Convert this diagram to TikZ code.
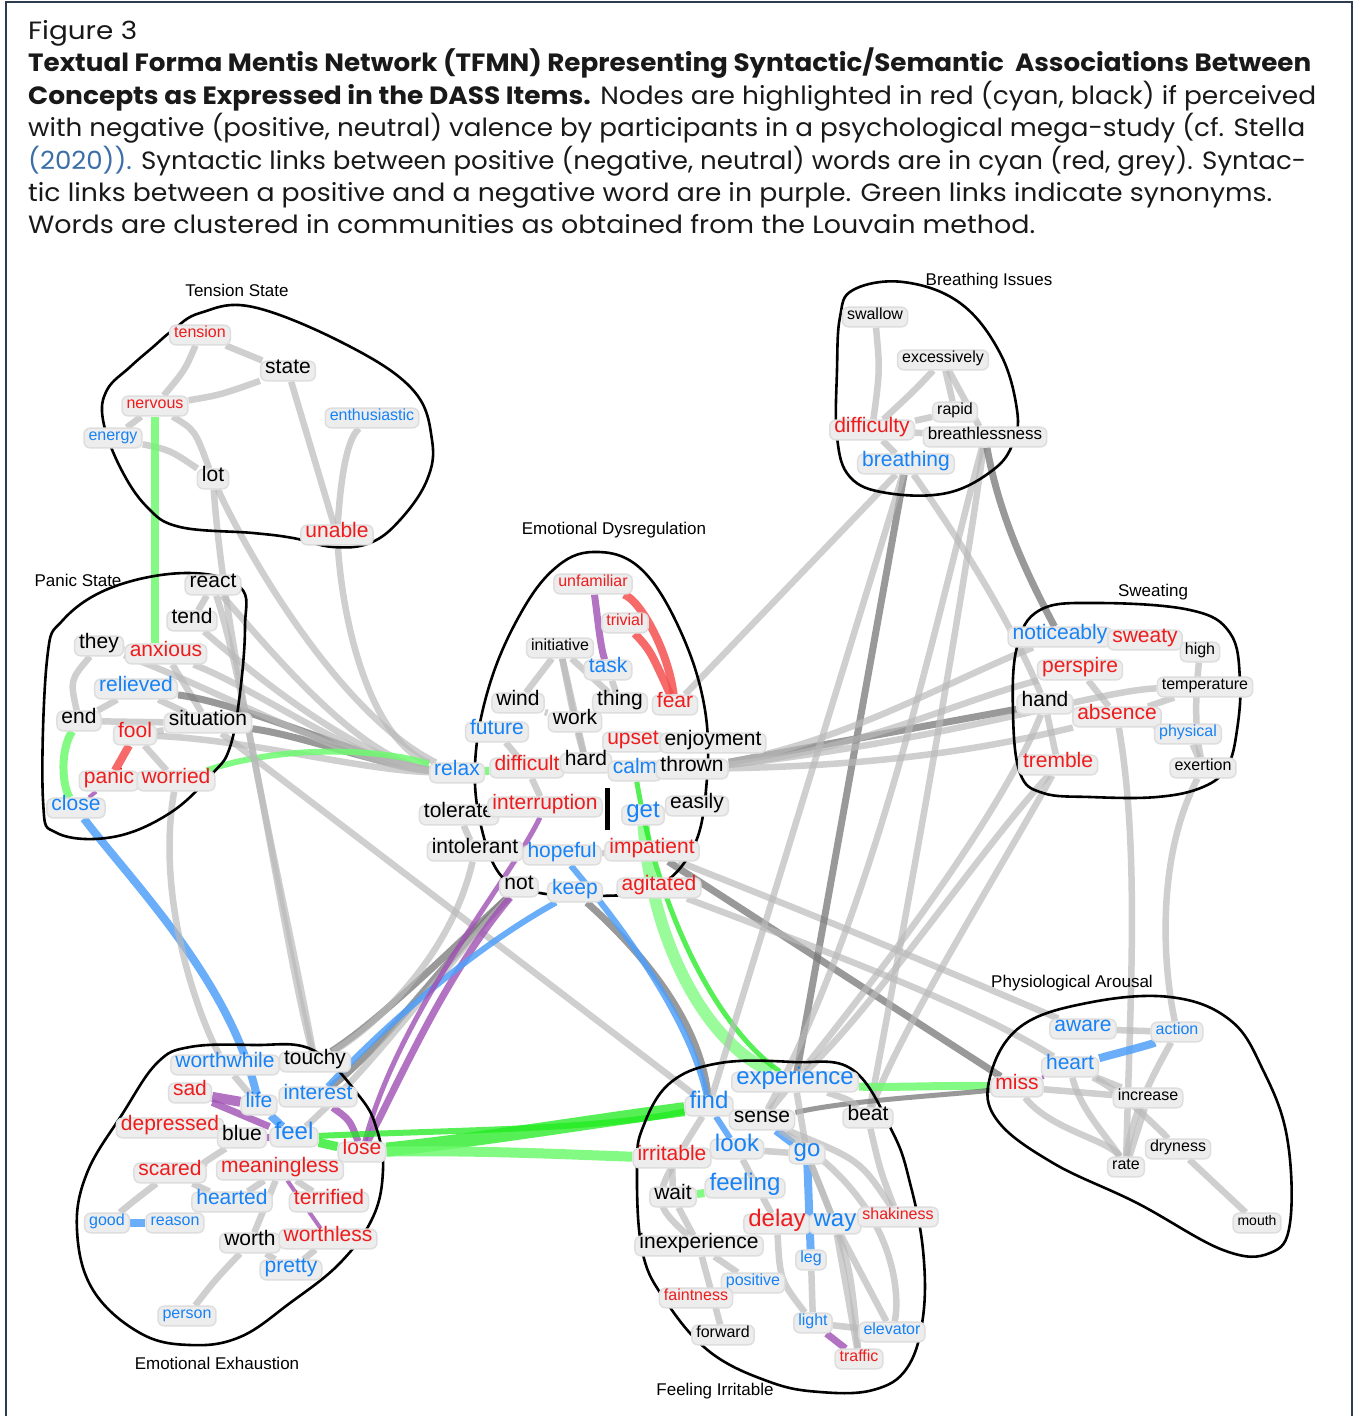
\documentclass[tikz,border=0pt]{standalone}
\usepackage{fontspec}
\usepackage{graphicx}
\newfontfamily\capfont{Poppins}
\newfontfamily\arial{Liberation Sans}
\definecolor{wred}{RGB}{238,28,28}
\definecolor{wblue}{RGB}{22,130,245}
\definecolor{boxf}{RGB}{237,237,237}
\definecolor{boxd}{RGB}{222,222,222}
\definecolor{lgrey}{RGB}{185,185,185}
\definecolor{dgrey}{RGB}{120,120,120}
\definecolor{lgreen}{RGB}{110,250,110}
\definecolor{bgreen}{RGB}{30,235,30}
\definecolor{lblue}{RGB}{80,160,250}
\definecolor{purp}{RGB}{160,80,180}
\definecolor{lred}{RGB}{245,80,80}
\definecolor{capc}{RGB}{25,25,25}
\definecolor{linkc}{RGB}{60,110,168}
\definecolor{framec}{RGB}{45,60,80}
\pgfdeclarelayer{edgelayer}
\pgfdeclarelayer{outlayer}
\pgfsetlayers{edgelayer,outlayer,main}
\newcommand\capline[2]{\resizebox{#1}{\height}{#2}}
\tikzset{
 wd/.style={rounded corners=6pt, fill=boxf, draw=boxd, line width=1.5pt, inner xsep=4.5pt, inner ysep=5pt, text height=0.74em, text depth=0.22em},
 ws/.style={wd, font=\arial\fontsize{16}{18}\selectfont},
 wm/.style={wd, font=\arial\fontsize{21}{24}\selectfont},
 wl/.style={wd, font=\arial\fontsize{24}{28}\selectfont},
 cneg/.style={text=wred}, cpos/.style={text=wblue}, cneu/.style={text=black},
 glink/.style={draw=lgrey, line width=6.5pt, opacity=0.68},
 dlink/.style={draw=dgrey, line width=7pt, opacity=0.75},
 grlink/.style={draw=lgreen, line width=8pt, opacity=0.85},
 bglink/.style={draw=bgreen, line width=9pt, opacity=0.75},
 bllink/.style={draw=lblue, line width=8pt, opacity=0.85},
 pulink/.style={draw=purp, line width=7pt, opacity=0.8},
 rdlink/.style={draw=lred, line width=8pt, opacity=0.85},
 outl/.style={draw=black, line width=2.6pt},
 clab/.style={font=\arial\fontsize{17}{20}\selectfont, inner sep=0pt},
 capl/.style={anchor=base west, inner sep=0pt, text=capc, font=\capfont\fontsize{25}{32}\selectfont},
}
\begin{document}
\begin{tikzpicture}[x=1pt,y=-1pt]
\useasboundingbox (0,0) rectangle (1355,1416);
\begin{pgfonlayer}{edgelayer}
\fill[white] (0,0) rectangle (1355,1416);
\end{pgfonlayer}
\draw[framec, line width=2pt] (6,1416) -- (6,2) -- (1352,2) -- (1352,1416);
% caption
\node[capl] (cap1) at (28,39) {\capline{109pt}{Figure 3}};
\node[capl] (cap2) at (28,71) {\capline{1283pt}{\bfseries Textual Forma Mentis Network (TFMN) Representing Syntactic/Semantic\ \ Associations Between}};
\node[capl] (cap3) at (28,104) {\capline{1288pt}{\textbf{Concepts as Expressed in the DASS Items.} Nodes are highlighted in red (cyan, black) if perceived}};
\node[capl] (cap4) at (28,136) {\capline{1277pt}{with negative (positive, neutral) valence by participants in a psychological mega-study (cf. Stella}};
\node[capl] (cap5) at (28,169) {\capline{1278pt}{\textcolor{linkc}{(2020)).} Syntactic links between positive (negative, neutral) words are in cyan (red, grey). Syntac-}};
\node[capl] (cap6) at (28,201) {\capline{1244pt}{tic links between a positive and a negative word are in purple. Green links indicate synonyms.}};
\node[capl] (cap7) at (28,233) {\capline{1007pt}{Words are clustered in communities as obtained from the Louvain method.}};
% cluster labels
\node[clab] (lab1) at (237,290) {Tension State};
\node[clab] (lab2) at (78,580) {Panic State};
\node[clab] (lab3) at (614,530) {Emotional Dysregulation};
\node[clab] (lab4) at (989,281) {Breathing Issues};
\node[clab] (lab5) at (1153,592) {Sweating};
\node[clab] (lab6) at (1072,983) {Physiological Arousal};
\node[clab] (lab7) at (217,1363) {Emotional Exhaustion};
\node[clab] (lab8) at (715,1391) {Feeling Irritable};
% Tension State
\node[ws,cneg] (tension) at (200,335) {tension};
\node[wm,cneu] (state) at (288,371) {state};
\node[ws,cneg] (nervous) at (155,406) {nervous};
\node[ws,cpos] (energy) at (113,438) {energy};
\node[ws,cpos] (enthusiastic) at (372,418) {enthusiastic};
\node[wm,cneu] (lot) at (213,479) {lot};
\node[wm,cneg] (unable) at (337,535) {unable};
% Panic State
\node[wm,cneu] (react) at (213,585) {react};
\node[wm,cneu] (tend) at (192,621) {tend};
\node[wm,cneu] (they) at (99,646) {they};
\node[wm,cneg] (anxious) at (166,654) {anxious};
\node[wm,cpos] (relieved) at (136,689) {relieved};
\node[wm,cneu] (wend) at (79,721) {end};
\node[wm,cneu] (situation) at (208,723) {situation};
\node[wm,cneg] (fool) at (135,735) {fool};
\node[wm,cneg] (panic) at (109,781) {panic};
\node[wm,cneg] (worried) at (176,781) {worried};
\node[wm,cpos] (close) at (76,808) {close};
% Emotional Dysregulation
\node[ws,cneg] (unfamiliar) at (593,584) {unfamiliar};
\node[ws,cneg] (trivial) at (625,623) {trivial};
\node[ws,cneu] (initiative) at (560,648) {initiative};
\node[wm,cpos] (task) at (608,670) {task};
\node[wm,cneu] (wind) at (518,703) {wind};
\node[wm,cneu] (thing) at (620,703) {thing};
\node[wm,cneg] (fear) at (675,705) {fear};
\node[wm,cneu] (work) at (575,722) {work};
\node[wm,cpos] (future) at (497,732) {future};
\node[wm,cneg] (upset) at (633,742) {upset};
\node[wm,cneu] (enjoyment) at (713,743) {enjoyment};
\node[wm,cpos] (relax) at (457,773) {relax};
\node[wm,cneg] (difficult) at (527,768) {difficult};
\node[wm,cneu] (hard) at (586,763) {hard};
\node[wm,cpos] (calm) at (635,771) {calm};
\node[wm,cneu] (thrown) at (692,769) {thrown};
\node[wm,cneu] (tolerate) at (459,815) {tolerate};
\node[wm,cneg] (interruption) at (545,807) {interruption};
\node[wl,cpos] (get) at (643,815) {get};
\node[wm,cneu] (easily) at (697,806) {easily};
\node[wm,cneu] (intolerant) at (475,851) {intolerant};
\node[wm,cpos] (hopeful) at (562,855) {hopeful};
\node[wm,cneg] (impatient) at (652,851) {impatient};
\node[wm,cneu] (not) at (519,887) {not};
\node[wm,cpos] (keep) at (575,892) {keep};
\node[wm,cneg] (agitated) at (659,888) {agitated};
% Breathing Issues
\node[ws,cneu] (swallow) at (875,317) {swallow};
\node[ws,cneu] (excessively) at (943,360) {excessively};
\node[ws,cneu] (rapid) at (955,412) {rapid};
\node[wm,cneg] (difficulty) at (872,430) {difficulty};
\node[ws,cneu,font=\arial\fontsize{17}{20}\selectfont] (breathlessness) at (985,437) {breathlessness};
\node[wm,cpos] (breathing) at (906,464) {breathing};
% Sweating
\node[wm,cpos] (noticeably) at (1060,637) {noticeably};
\node[wm,cneg] (sweaty) at (1145,640) {sweaty};
\node[ws,cneu] (high) at (1200,652) {high};
\node[wm,cneg] (perspire) at (1080,670) {perspire};
\node[ws,cneu] (temperature) at (1205,687) {temperature};
\node[wm,cneu] (hand) at (1045,704) {hand};
\node[wm,cneg] (absence) at (1117,717) {absence};
\node[ws,cpos] (physical) at (1188,734) {physical};
\node[wm,cneg] (tremble) at (1058,765) {tremble};
\node[ws,cneu] (exertion) at (1203,768) {exertion};
% Physiological Arousal
\node[wm,cpos] (aware) at (1083,1029) {aware};
\node[ws,cpos] (action) at (1177,1032) {action};
\node[wm,cpos] (heart) at (1070,1067) {heart};
\node[wm,cneg] (miss) at (1017,1087) {miss};
\node[ws,cneu] (increase) at (1148,1098) {increase};
\node[ws,cneu] (dryness) at (1178,1149) {dryness};
\node[ws,cneu] (rate) at (1126,1167) {rate};
\node[ws,cneu,font=\arial\fontsize{14}{16}\selectfont] (mouth) at (1257,1223) {mouth};
% Emotional Exhaustion
\node[wm,cpos] (worthwhile) at (225,1065) {worthwhile};
\node[wm,cneu] (touchy) at (315,1062) {touchy};
\node[wm,cneg] (sad) at (190,1093) {sad};
\node[wm,cpos] (life) at (259,1105) {life};
\node[wm,cpos] (interest) at (318,1097) {interest};
\node[wm,cneg] (depressed) at (170,1128) {depressed};
\node[wm,cneu] (blue) at (242,1138) {blue};
\node[wl,cpos] (feel) at (294,1137) {feel};
\node[wm,cneg] (lose) at (362,1152) {lose};
\node[wm,cneg] (scared) at (170,1173) {scared};
\node[wm,cneg] (meaningless) at (280,1170) {meaningless};
\node[wm,cpos] (hearted) at (232,1202) {hearted};
\node[wm,cneg] (terrified) at (329,1202) {terrified};
\node[ws,cpos] (good) at (107,1223) {good};
\node[ws,cpos] (reason) at (175,1223) {reason};
\node[wm,cneu] (worth) at (250,1243) {worth};
\node[wm,cneg] (worthless) at (328,1239) {worthless};
\node[wm,cpos] (pretty) at (291,1270) {pretty};
\node[ws,cpos] (person) at (187,1316) {person};
% Feeling Irritable
\node[wl,cpos] (experience) at (795,1082) {experience};
\node[wl,cpos] (find) at (709,1106) {find};
\node[wm,cneu] (sense) at (762,1120) {sense};
\node[wm,cneu] (beat) at (868,1118) {beat};
\node[wl,cpos] (look) at (737,1149) {look};
\node[wl,cpos] (go) at (807,1154) {go};
\node[wm,cneg] (irritable) at (672,1158) {irritable};
\node[wm,cneu] (wait) at (673,1197) {wait};
\node[wl,cpos] (feeling) at (745,1188) {feeling};
\node[wl,cneg] (delay) at (777,1224) {delay};
\node[wl,cpos] (way) at (835,1224) {way};
\node[ws,cneg] (shakiness) at (898,1217) {shakiness};
\node[wm,cneu] (inexperience) at (699,1246) {inexperience};
\node[ws,cpos] (leg) at (811,1260) {leg};
\node[ws,cpos] (positive) at (753,1283) {positive};
\node[ws,cneg] (faintness) at (696,1298) {faintness};
\node[ws,cpos] (light) at (813,1323) {light};
\node[ws,cpos] (elevator) at (892,1332) {elevator};
\node[ws,cneu] (forward) at (723,1335) {forward};
\node[ws,cneg] (traffic) at (859,1359) {traffic};

% cluster outlines
\begin{pgfonlayer}{outlayer}
\draw[outl] plot[smooth cycle, tension=0.65] coordinates {(173,330) (200,313) (253,307) (347,345) (413,390) (432,440) (427,480) (400,520) (370,543) (333,547) (293,538) (253,533) (180,527) (147,507) (120,467) (103,420) (107,390) (130,367) (153,347)};
\draw[outl] plot[smooth cycle, tension=0.65] coordinates {(187,573) (240,587) (245,627) (240,693) (230,747) (213,773) (170,813) (113,837) (57,833) (43,800) (47,660) (63,620) (113,587)};
\draw[outl] plot[smooth cycle, tension=0.65] coordinates {(593,552) (640,568) (680,630) (705,710) (706,790) (692,850) (655,888) (600,896) (540,893) (503,878) (482,830) (475,765) (488,690) (517,620) (553,570)};
\draw[outl] plot[smooth cycle, tension=0.65] coordinates {(853,290) (903,282) (960,303) (1000,353) (1017,410) (1013,443) (993,470) (947,493) (887,493) (850,477) (837,437) (837,370) (840,317)};
\draw[outl] plot[smooth cycle, tension=0.65] coordinates {(1040,610) (1097,603) (1190,610) (1230,633) (1240,680) (1237,730) (1227,767) (1203,787) (1157,797) (1090,797) (1043,793) (1020,773) (1013,713) (1017,647)};
\draw[outl] plot[smooth cycle, tension=0.65] coordinates {(990,1077) (1020,1027) (1087,1003) (1170,997) (1230,1020) (1263,1070) (1287,1137) (1290,1223) (1270,1253) (1223,1250) (1137,1203) (1053,1163) (997,1120)};
\draw[outl] plot[smooth cycle, tension=0.65] coordinates {(253,1045) (313,1050) (360,1097) (377,1130) (383,1170) (373,1217) (340,1263) (290,1303) (240,1337) (190,1345) (140,1333) (93,1290) (77,1230) (87,1173) (123,1113) (157,1063) (190,1047)};
\draw[outl] plot[smooth cycle, tension=0.65] coordinates {(643,1127) (670,1083) (720,1063) (793,1062) (853,1070) (893,1133) (910,1183) (923,1250) (923,1317) (907,1368) (873,1390) (820,1392) (770,1382) (710,1352) (665,1300) (642,1250) (637,1167)};
\draw[black, line width=5pt] (607,788) -- (607,830);
\end{pgfonlayer}

% links
\begin{pgfonlayer}{edgelayer}
% Tension State
\draw[glink] (tension) -- (state);
\draw[glink] (tension) .. controls (185,370) .. (nervous);
\draw[glink] (nervous) .. controls (220,395) .. (state);
\draw[glink] (nervous) -- (energy);
\draw[glink] (energy) .. controls (170,450) .. (lot);
\draw[glink] (nervous) .. controls (195,430) .. (lot);
\draw[glink] (state) -- (unable);
\draw[glink] (enthusiastic) .. controls (345,440) and (340,490) .. (unable);
\draw[grlink] (nervous.south) -- (nervous.south |- anxious.north);
\draw[glink] (lot) .. controls (225,650) and (285,900) .. (touchy);
\draw[glink] (lot) .. controls (260,580) and (350,720) .. (relax);
\draw[glink] (unable) .. controls (345,650) and (380,745) .. (relax);
% Panic State
\draw[glink] (they) -- (anxious);
\draw[glink] (they) .. controls (70,680) .. (wend);
\draw[glink] (relieved) -- (wend);
\draw[glink] (wend) -- (situation);
\draw[glink] (relieved) -- (situation);
\draw[glink] (anxious) -- (situation);
\draw[glink] (fool) -- (situation);
\draw[glink] (react) -- (tend);
\draw[glink] (fool) -- (worried);
\draw[rdlink] (fool) -- (panic);
\draw[pulink, line width=4pt] (panic) -- (close);
\draw[grlink] (wend) .. controls (60,750) and (62,785) .. (close);
\draw[dlink] (situation) .. controls (300,735) and (380,765) .. (relax);
\draw[dlink] (relieved) .. controls (250,705) and (370,762) .. (relax);
\draw[glink] (anxious) .. controls (260,690) and (360,765) .. (relax);
\draw[glink] (tend) .. controls (260,680) and (360,760) .. (relax);
\draw[glink] (react) .. controls (270,650) and (360,760) .. (relax);
\draw[glink] (they) .. controls (220,690) and (350,765) .. (relax);
\draw[glink] (fool) .. controls (250,740) and (360,770) .. (relax);
\draw[grlink, line width=6pt] (worried) .. controls (280,745) and (380,748) .. (relax);
\draw[bllink] (close) .. controls (130,880) and (230,980) .. (life);
\draw[glink] (react) .. controls (250,700) and (285,950) .. (touchy);
\draw[glink] (worried) .. controls (155,900) and (200,1020) .. (worthwhile);
\draw[glink] (situation) -- (find);
% Emotional Dysregulation
\draw[pulink] (unfamiliar) .. controls (598,620) and (600,645) .. (task);
\draw[rdlink] (unfamiliar) .. controls (640,600) and (668,650) .. (fear);
\draw[rdlink] (trivial) .. controls (650,650) .. (fear);
\draw[glink] (initiative) -- (work);
\draw[glink] (initiative) -- (hard);
\draw[glink] (initiative) -- (thing);
\draw[glink] (initiative) -- (wind);
\draw[glink] (wind) -- (work);
\draw[glink] (task) -- (thing);
\draw[glink] (work) -- (hard);
\draw[glink] (future) -- (difficult);
\draw[glink] (hard) -- (calm);
\draw[glink] (upset) -- (enjoyment);
\draw[glink] (calm) -- (thrown);
\draw[glink] (get) -- (easily);
\draw[glink] (hopeful) -- (impatient);
\draw[glink] (tolerate) -- (intolerant);
\draw[glink] (difficult) -- (interruption);
\draw[grlink] (relax) -- (difficult);
\draw[grlink, line width=5pt] (work) -- (upset);
\draw[glink] (fear) -- (breathing);
\draw[dlink] (thrown) -- (hand);
\draw[dlink] (impatient) -- (miss);
\draw[glink] (impatient) .. controls (850,930) .. (aware);
% not bundle to Emotional Exhaustion
\draw[dlink] (not) .. controls (440,960) and (380,1020) .. (touchy);
\draw[dlink] (not) .. controls (440,965) and (390,1040) .. (interest);
\draw[glink] (not) .. controls (440,970) and (380,1060) .. (feel);
\draw[glink] (intolerant) .. controls (450,960) and (370,1030) .. (touchy);
\draw[pulink] (not) .. controls (445,975) and (400,1080) .. (lose);
\draw[bllink, line width=6pt] (keep) .. controls (470,950) and (380,1030) .. (interest);
\draw[pulink, line width=5pt] (interruption) .. controls (510,880) and (400,1010) .. (lose);
\draw[dlink] (keep) .. controls (640,950) and (700,1020) .. (find);
\draw[bllink, line width=6pt] (hopeful) .. controls (625,930) and (690,1020) .. (find);
\draw[grlink, line width=12pt, opacity=0.7] (get) .. controls (650,930) and (700,1040) .. (experience);
\draw[bglink, line width=5pt] (calm) .. controls (660,920) and (720,1030) .. (experience);
% Breathing Issues
\draw[glink] (swallow) .. controls (880,370) .. (difficulty);
\draw[glink] (excessively) .. controls (915,390) .. (difficulty);
\draw[glink] (excessively) -- (breathlessness);
\draw[glink] (excessively) -- (rapid);
\draw[glink] (rapid) -- (difficulty);
\draw[glink] (difficulty) -- (breathlessness);
\draw[glink] (breathing) -- (difficulty);
\draw[dlink] (breathing) -- (experience);
\draw[glink] (breathing) -- (find);
\draw[glink] (breathlessness) .. controls (940,600) and (880,900) .. (sense);
\draw[glink] (breathlessness) .. controls (960,620) and (900,950) .. (beat);
\draw[dlink] (breathlessness) .. controls (1000,520) and (1030,580) .. (noticeably);
\draw[glink] (breathing) .. controls (960,540) and (1010,620) .. (hand);
% Sweating
\draw[glink] (noticeably) -- (sweaty);
\draw[glink] (perspire) -- (absence);
\draw[glink] (hand) -- (absence);
\draw[glink] (absence) -- (temperature);
\draw[glink] (absence) -- (physical);
\draw[glink] (physical) -- (exertion);
\draw[glink] (high) .. controls (1195,700) and (1195,730) .. (exertion);
\draw[glink] (hand) -- (tremble);
\draw[glink] (noticeably) .. controls (950,680) and (850,740) .. (thrown);
\draw[glink] (perspire) .. controls (960,700) and (860,750) .. (thrown);
\draw[glink] (absence) .. controls (1000,745) and (900,765) .. (thrown);
\draw[glink] (temperature) .. controls (1100,690) and (950,740) .. (thrown);
\draw[glink] (absence) .. controls (1140,850) and (1130,1000) .. (rate);
\draw[glink] (exertion) .. controls (1160,850) and (1160,950) .. (action);
\draw[glink] (tremble) .. controls (980,850) and (880,1000) .. (experience);
\draw[glink] (hand) .. controls (1000,820) and (860,1000) .. (sense);
\draw[glink] (tremble) .. controls (1000,870) and (900,1030) .. (beat);
% Physiological Arousal
\draw[bllink] (heart) .. controls (1110,1055) and (1150,1045) .. (action);
\draw[glink] (aware) -- (action);
\draw[glink] (heart) -- (increase);
\draw[glink] (miss) -- (increase);
\draw[glink] (miss) .. controls (1050,1130) and (1110,1140) .. (rate);
\draw[glink] (heart) .. controls (1080,1110) and (1110,1140) .. (rate);
\draw[glink] (increase) -- (rate);
\draw[glink] (dryness) -- (mouth);
\draw[glink] (heart) .. controls (1120,1090) and (1160,1130) .. (dryness);
\draw[glink] (action) .. controls (1150,1080) and (1130,1120) .. (rate);
\draw[pulink, line width=4pt] (miss) -- (heart);
\draw[grlink] (miss) .. controls (950,1085) and (880,1088) .. (experience);
\draw[dlink, line width=5pt] (miss) .. controls (950,1095) and (850,1100) .. (sense);
\draw[glink] (agitated) .. controls (850,960) and (980,1010) .. (heart);
% Emotional Exhaustion
\draw[pulink, line width=10pt] (sad) -- (life);
\draw[pulink] (sad) -- (feel);
\draw[bllink] (life) -- (feel);
\draw[glink] (worthwhile) -- (life);
\draw[glink] (worthwhile) -- (touchy);
\draw[pulink] (blue) -- (feel);
\draw[pulink] (interest) .. controls (350,1120) .. (lose);
\draw[bglink] (feel) -- (lose);
\draw[glink] (depressed) -- (blue);
\draw[glink] (scared) -- (hearted);
\draw[glink] (scared) .. controls (135,1200) .. (good);
\draw[bllink] (good) -- (reason);
\draw[glink] (hearted) -- (meaningless);
\draw[glink] (meaningless) -- (worth);
\draw[glink] (worth) .. controls (215,1280) .. (person);
\draw[pulink, line width=4pt] (meaningless) -- (worthless);
\draw[glink] (worthless) -- (pretty);
\draw[glink] (worth) -- (pretty);
\draw[glink] (meaningless) -- (terrified);
\draw[glink] (blue) .. controls (200,1165) .. (scared);
% green bundle to Feeling Irritable
\draw[bglink, line width=14pt, opacity=0.75] (lose) .. controls (480,1140) and (600,1120) .. (find);
\draw[grlink, line width=10pt] (lose) .. controls (480,1150) and (580,1155) .. (irritable);
\draw[bglink, line width=6pt] (feel) .. controls (450,1130) and (600,1130) .. (find);
% Feeling Irritable
\draw[glink] (find) -- (sense);
\draw[bllink, line width=6pt] (find) -- (look);
\draw[bllink] (sense) -- (go);
\draw[glink] (look) -- (go);
\draw[bllink] (go) -- (leg);
\draw[glink] (go) -- (way);
\draw[glink] (way) -- (delay);
\draw[glink] (way) -- (shakiness);
\draw[glink] (way) -- (elevator);
\draw[glink] (way) -- (traffic);
\draw[pulink] (light) -- (traffic);
\draw[glink] (light) -- (elevator);
\draw[glink] (leg) -- (light);
\draw[grlink] (feeling) -- (wait);
\draw[glink] (irritable) -- (wait);
\draw[glink] (wait) -- (inexperience);
\draw[glink] (inexperience) -- (forward);
\draw[glink] (faintness) -- (positive);
\draw[glink] (inexperience) -- (positive);
\draw[glink] (delay) .. controls (780,1280) .. (light);
\draw[glink] (sense) .. controls (860,1160) .. (shakiness);
\draw[glink] (beat) .. controls (880,1170) .. (shakiness);
\draw[glink] (experience) -- (go);
\draw[glink] (look) -- (delay);
\draw[glink] (go) .. controls (850,1260) .. (traffic);
\draw[glink] (sense) .. controls (900,1200) and (900,1300) .. (elevator);
\draw[glink] (find) .. controls (650,1200) .. (inexperience);
\draw[glink] (experience) .. controls (850,1100) .. (beat);
\end{pgfonlayer}
\end{tikzpicture}
\end{document}
